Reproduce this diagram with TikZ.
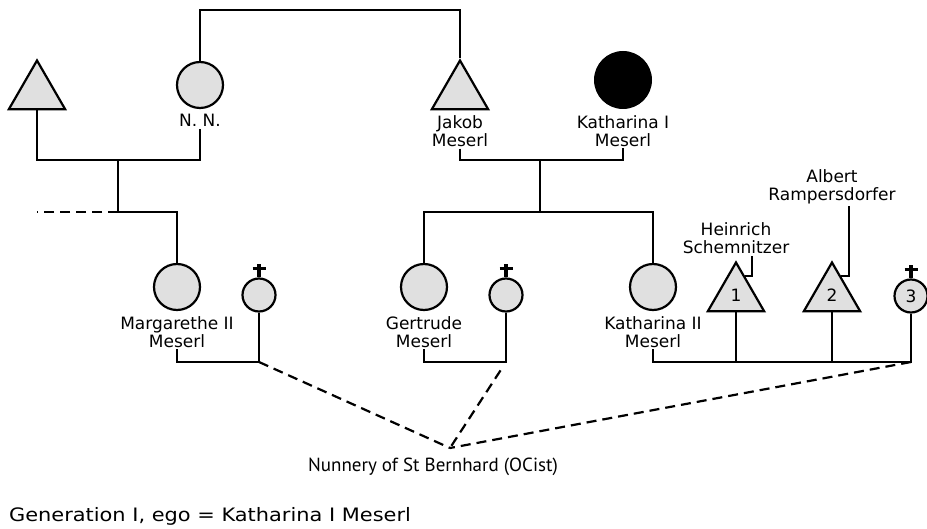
\documentclass[tikz,border=0pt]{standalone}
\usepackage{fontspec}
\setmainfont{DejaVu Sans}
\newfontfamily\notefont{PT Sans}
\usepackage{tikz}
\usetikzlibrary{shapes, positioning, calc}

\begin{document}
\begin{tikzpicture}[
    x=1pt, y=-1pt,
    line width=2.2pt,
    person/.style={draw, line width=2.2pt, fill=black!12, inner sep=0pt},
    female/.style={person, circle, minimum size=46pt},
    male/.style={person, regular polygon, regular polygon sides=3, minimum size=65pt, font=\fontsize{17}{18}\selectfont},
    nun/.style={person, circle, minimum size=33pt, font=\fontsize{17}{18}\selectfont},
    ego/.style={circle, fill=black, minimum size=58pt, inner sep=0pt},
    plabel/.style={align=center, inner sep=1pt, font=\fontsize{17}{18}\selectfont},
    link/.style={line width=2.2pt},
    dashlink/.style={line width=2.2pt, dash pattern=on 10pt off 6pt},
    crossmark/.style={line width=3.6pt}
]
\useasboundingbox (0,0) rectangle (927,529);

% Generation der Eltern
\node[male] (tri0) at (37,93) {};
\node[female] (nn) at (200,85) {};
\node[male] (jakob) at (460,93) {};
\node[ego] (kath1) at (623,80) {};
\node[plabel, below=3pt of nn] (nnlbl) {N. N.};
\node[plabel, below=3pt of jakob.south] (jaklbl) {Jakob\\Meserl};
\node[plabel, below=3pt of kath1] (kath1lbl) {Katharina I\\Meserl};

% Kinder
\node[female] (marg) at (177,287) {};
\node[nun] (nun1) at (259,295) {};
\node[female] (gert) at (424,287) {};
\node[nun] (nun2) at (506,295) {};
\node[female] (kath2) at (653,287) {};
\node[male] (husb1) at (736,295) {1};
\node[male] (husb2) at (832,295) {2};
\node[nun] (nun3) at (911,296) {3};
\node[plabel, below=3pt of marg] (marglbl) {Margarethe II\\Meserl};
\node[plabel, below=3pt of gert] (gertlbl) {Gertrude\\Meserl};
\node[plabel, below=3pt of kath2] (kath2lbl) {Katharina II\\Meserl};
\node[plabel, above=4pt of husb1.corner 1] (heinlbl) {Heinrich\\Schemnitzer};
\node[plabel, above=54pt of husb2.corner 1] (albertlbl) {Albert\\Rampersdorfer};

% Kloster und Legende
\coordinate (cloister) at (450,448);
\node[font=\notefont\fontsize{19}{20}\selectfont] (nunnery) at (433,467) {Nunnery of St Bernhard (OCist)};
\node[anchor=west, inner sep=0pt, font=\fontsize{18.5}{20}\selectfont] (legend) at (8,516) {\scalebox{1.13}[1]{Generation I, ego = Katharina I Meserl}};

% Hilfspunkte
\coordinate (topbar) at (330,10);
\coordinate (c1) at (118,160);
\coordinate (s1) at (118,212);
\coordinate (sib) at (37,212);
\coordinate (c2) at (540,160);
\coordinate (s2) at (540,212);
\coordinate (b1) at (259,362);
\coordinate (b2) at (506,362);
\coordinate (b3) at (911,362);

% Linien
\draw[link] (nn.north) |- (topbar) -| (jakob.corner 1);
\draw[link] (tri0.side 2) |- (c1) -| (nnlbl.south);
\draw[link] (c1) -- (s1) -| (marg.north);
\draw[dashlink] (s1) -- (sib);
\draw[link] (jaklbl.south) |- (c2) -| (kath1lbl.south);
\draw[link] (gert.north) |- (s2) -| (kath2.north);
\draw[link] (c2) -- (s2);
\draw[link] (marglbl.south) |- (b1) -- (nun1.south);
\draw[link] (gertlbl.south) |- (b2) -- (nun2.south);
\draw[link] (kath2lbl.south) |- (b3) -- (nun3.south);
\draw[link] (husb1.side 2) -- (husb1.side 2 |- b3);
\draw[link] (husb2.side 2) -- (husb2.side 2 |- b3);

% Zeiger zu den Namen
\draw[line width=1.2pt] ($(husb1.corner 1)!0.3!(husb1.corner 3)$) -- ++(7,0) coordinate (hk) -- (hk |- heinlbl.south);
\draw[line width=1.2pt] ($(husb2.corner 1)!0.3!(husb2.corner 3)$) -- ++(8,0) coordinate (ak) -- (ak |- albertlbl.south);

% Kreuze
\foreach \n in {nun1,nun2,nun3} {
  \draw[crossmark] (\n.north) -- ++(0,-13);
  \draw[crossmark] ([yshift=9pt]\n.north) ++(-6.5,0) -- ++(13,0);
}

% Kloster
\draw[dashlink] (b1) -- (cloister);
\draw[dashlink, shorten <=10pt] (b2) -- (cloister);
\draw[dashlink] (b3) -- (cloister);

\end{tikzpicture}
\end{document}
